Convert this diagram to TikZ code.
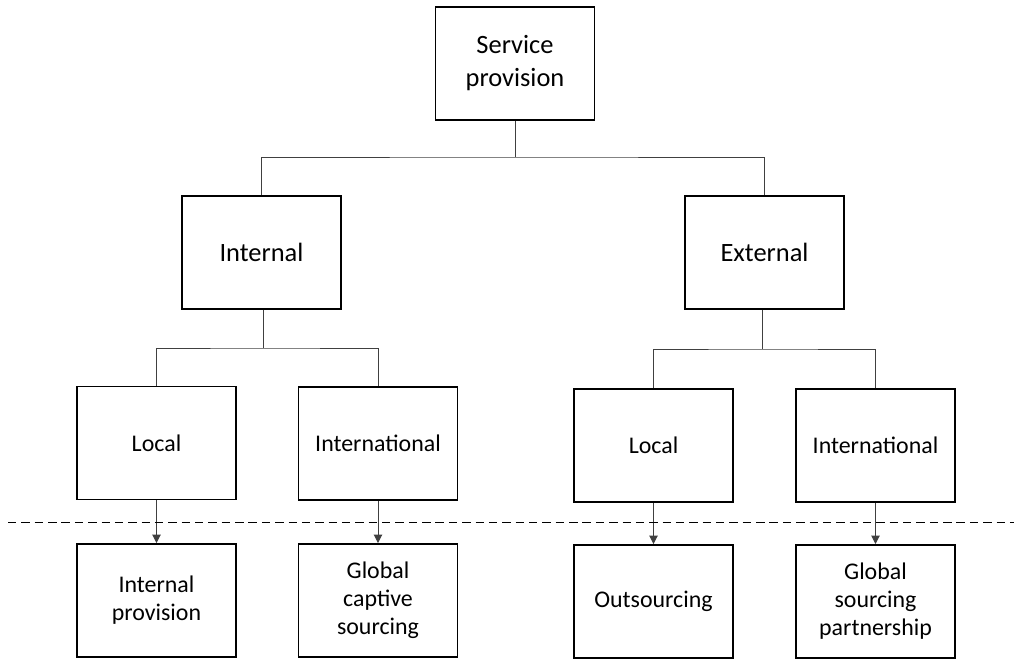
\documentclass[tikz,border=0pt]{standalone}
\usepackage{fontspec}
\setmainfont{Carlito}
\usetikzlibrary{arrows.meta}

\tikzset{
  box/.style={draw=black,line width=1.4pt,minimum width=159*0.025cm,minimum height=113*0.025cm,align=center,inner sep=0pt},
  bigtext/.style={font=\fontsize{18.8}{23.5}\selectfont},
  smalltext/.style={font=\fontsize{17}{19.9}\selectfont},
  link/.style={line width=0.7pt,draw=black!75},
  arr/.style={link,-{Triangle[width=6pt,length=6pt]}}
}

\begin{document}
\begin{tikzpicture}[line cap=butt,line join=miter,x=0.025cm,y=-0.025cm]
		\useasboundingbox (0,0) rectangle (1014,660);
		% top level
		\node[box,bigtext] (serv) at (515,63.5) {Service\\provision};
		% second level
		\node[box,bigtext] (int) at (261.5,252.5) {Internal};
		\node[box,bigtext] (ext) at (764.5,252.5) {External};
		% third level
		\node[box,smalltext] (intloc) at (156.5,443) {Local};
		\node[box,smalltext] (intint) at (378,443.5) {International};
		\node[box,smalltext] (extloc) at (653.5,445.5) {Local};
		\node[box,smalltext] (extint) at (875.5,445.5) {International};
		% bottom level
		\node[box,smalltext] (prov) at (156.5,600.5) {Internal\\provision};
		\node[box,smalltext] (capt) at (378,600.5) {Global\\captive\\sourcing};
		\node[box,smalltext] (outs) at (653.5,601.5) {Outsourcing};
		\node[box,smalltext] (part) at (875.5,601.5) {Global\\sourcing\\partnership};
		% buses
		\coordinate (bustop) at (515,157);
		\coordinate (busint) at (263,348);
		\coordinate (busext) at (762,349);
		\draw[link] (serv.south) -- (bustop);
		\draw[link] (int.north) |- (bustop) -| (ext.north);
		\draw[link] (int.south -| busint) -- (busint);
		\draw[link] (intloc.north) |- (busint) -| (intint.north);
		\draw[link] (ext.south -| busext) -- (busext);
		\draw[link] (extloc.north) |- (busext) -| (extint.north);
		% arrows
		\draw[arr] (intloc) -- (prov);
		\draw[arr] (intint) -- (capt);
		\draw[arr] (extloc) -- (outs);
		\draw[arr] (extint) -- (part);
		% separator
		\coordinate (sepl) at (8,522);
		\coordinate (sepr) at (1014,522);
		\draw[line width=0.7pt,dash pattern=on 6pt off 3.5pt] (sepl) -- (sepr);
	\end{tikzpicture}
\end{document}
